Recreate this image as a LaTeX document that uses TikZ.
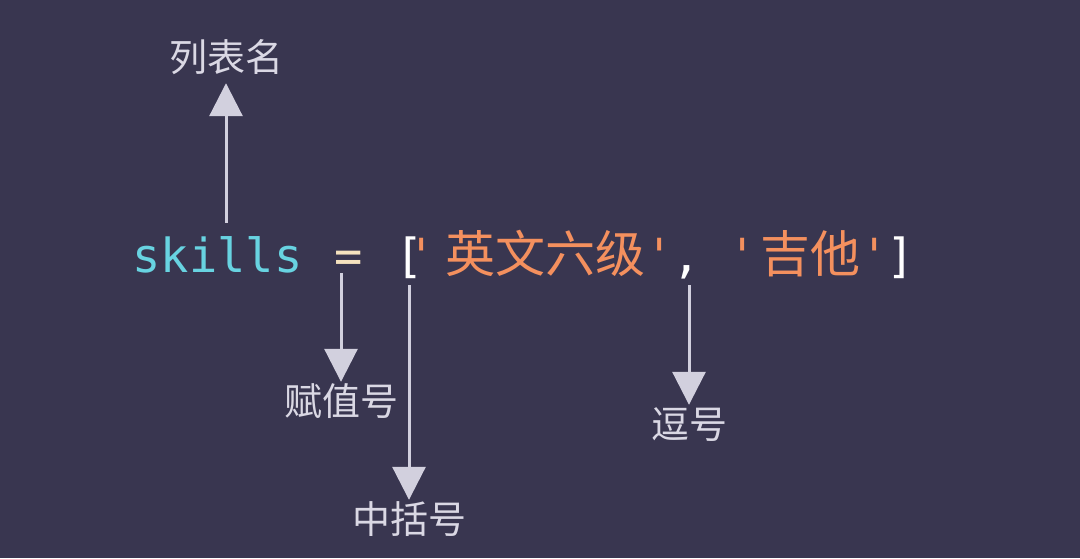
\documentclass[tikz,border=0pt]{standalone}
\usepackage{fontspec}
\setmonofont{DejaVu Sans Mono}
\newfontfamily\cjkfont{Noto Sans CJK SC}
\usetikzlibrary{arrows.meta}

\definecolor{bgdark}{RGB}{57,54,80}
\definecolor{varcyan}{RGB}{104,211,225}
\definecolor{opcream}{RGB}{245,226,190}
\definecolor{strorange}{RGB}{244,144,94}
\definecolor{arrowgray}{RGB}{210,208,222}
\definecolor{notegray}{RGB}{218,216,228}

\tikzstyle{every node}=[inner sep=0pt]
\tikzstyle{code}=[anchor=base, text=white, font={\fontsize{47}{50}\selectfont\ttfamily}, text height=36pt, text depth=1pt]
\tikzstyle{cjkcode}=[code, text=strorange, font={\fontsize{50}{54}\selectfont\cjkfont}]
\tikzstyle{note}=[text=notegray, font={\fontsize{38}{40}\selectfont\cjkfont}, text height=30pt, text depth=4pt]
\tikzstyle{pointer}=[draw=arrowgray, line width=3pt, -{Triangle[width=33pt,length=33pt]}]

\begin{document}
\begin{tikzpicture}[x=1pt,y=-1pt]
    \fill [bgdark] (0,0) rectangle (1080,558);

    \node [code, text=varcyan] (var) at (217.5,272) {skills};
    \node [code, text=opcream] (eq) at (349,272) {=};
    \node [code] (lbr) at (410,272) {[};
    \node [code, text=strorange] (q1) at (422,272) {'};
    \node [cjkcode] (str1) at (545,272) {英文六级};
    \node [code, text=strorange] (q2) at (660,272) {'};
    \node [code] (comma) at (687,272) {,};
    \node [code, text=strorange] (q3) at (743,272) {'};
    \node [cjkcode] (str2) at (810,272) {吉他};
    \node [code, text=strorange] (q4) at (875,272) {'};
    \node [code] (rbr) at (901,272) {]};

    \node [note] (listname) at (226,58) {列表名};
    \node [note] (assign) at (341,402.5) {赋值号};
    \node [note] (bracket) at (409,520) {中括号};
    \node [note] (commanote) at (689,425) {逗号};

    \draw [pointer, shorten <=13pt, shorten >=8pt] (var.north -| listname) -- (listname.south);
    \draw [pointer, shorten >=3.5pt] (eq.south -| assign) -- (assign.north);
    \draw [pointer, shorten <=12pt, shorten >=3pt] (lbr.south -| bracket) -- (bracket.north);
    \draw [pointer, shorten <=12pt, shorten >=3pt] (comma.south -| commanote) -- (commanote.north);
\end{tikzpicture}
\end{document}
